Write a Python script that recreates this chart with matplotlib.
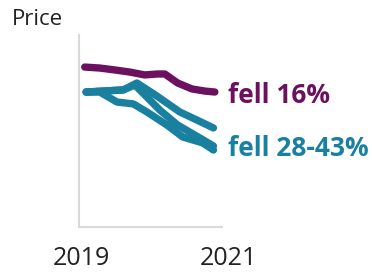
import matplotlib
matplotlib.use("Agg")
import matplotlib.pyplot as plt

plt.rcParams['font.family'] = ['Open Sans', 'DejaVu Sans']

# Data (fractional years, price index)
purple_x = [2019.08, 2019.29, 2019.50, 2019.71, 2019.92, 2020.10, 2020.20, 2020.38, 2020.58, 2020.76, 2020.90]
purple_y = [83.3, 82.8, 81.8, 80.7, 79.2, 79.7, 79.7, 75.0, 71.9, 70.8, 70.3]

teal_a_x = [2019.10, 2019.62, 2019.81, 2020.09, 2020.41, 2020.65, 2020.88]
teal_a_y = [70.3, 71.4, 75.0, 68.2, 59.9, 55.7, 51.6]

teal_b_x = [2019.10, 2019.29, 2019.53, 2019.76, 2019.95, 2020.23, 2020.45, 2020.73, 2020.88]
teal_b_y = [70.3, 70.3, 65.1, 64.1, 59.9, 53.1, 46.9, 43.8, 40.1]

teal_c_x = [2019.10, 2019.62, 2019.78, 2019.92, 2020.13, 2020.38, 2020.62, 2020.88]
teal_c_y = [70.3, 71.4, 74.0, 68.8, 60.9, 53.1, 47.9, 42.2]

year_labels = ["2019", "2021"]
purple_label = "fell 16%"
teal_label = "fell 28-43%"
y_title = "Price"

PURPLE = "#6c1160"
TEAL = "#1a80a0"
GRID = "#d9d9d9"

W, H = 372, 272
fig = plt.figure(figsize=(W / 100, H / 100), dpi=100)
ax = fig.add_axes([79 / W, 1 - 227 / H, 143 / W, 192 / H])
ax.set_xlim(2019, 2021)
ax.set_ylim(0, 100)

for xs, ys in [(teal_b_x, teal_b_y), (teal_c_x, teal_c_y), (teal_a_x, teal_a_y)]:
    ax.plot(xs, ys, color=TEAL, lw=5.3, solid_capstyle='round', solid_joinstyle='round', clip_on=False)
ax.plot(purple_x, purple_y, color=PURPLE, lw=5.3, solid_capstyle='round', solid_joinstyle='round', clip_on=False)

for s in ['top', 'right']:
    ax.spines[s].set_visible(False)
for s in ['left', 'bottom']:
    ax.spines[s].set_color(GRID)
    ax.spines[s].set_linewidth(1.5)
ax.set_xticks([])
ax.set_yticks([])

def ftext(px, py, s, **kw):
    fig.text(px / W, 1 - py / H, s, va='baseline', **kw)

ftext(12, 25, y_title, fontsize=16, color='#222222', ha='left')
ftext(81, 265, year_labels[0], fontsize=18, color='#222222', ha='center')
ftext(228, 265, year_labels[1], fontsize=18, color='#222222', ha='center')
ftext(228, 103, purple_label, fontsize=19, fontweight='bold', color=PURPLE, ha='left')
ftext(228, 156, teal_label, fontsize=19, fontweight='bold', color=TEAL, ha='left')

fig.savefig("out.png", dpi=100, facecolor='white')
